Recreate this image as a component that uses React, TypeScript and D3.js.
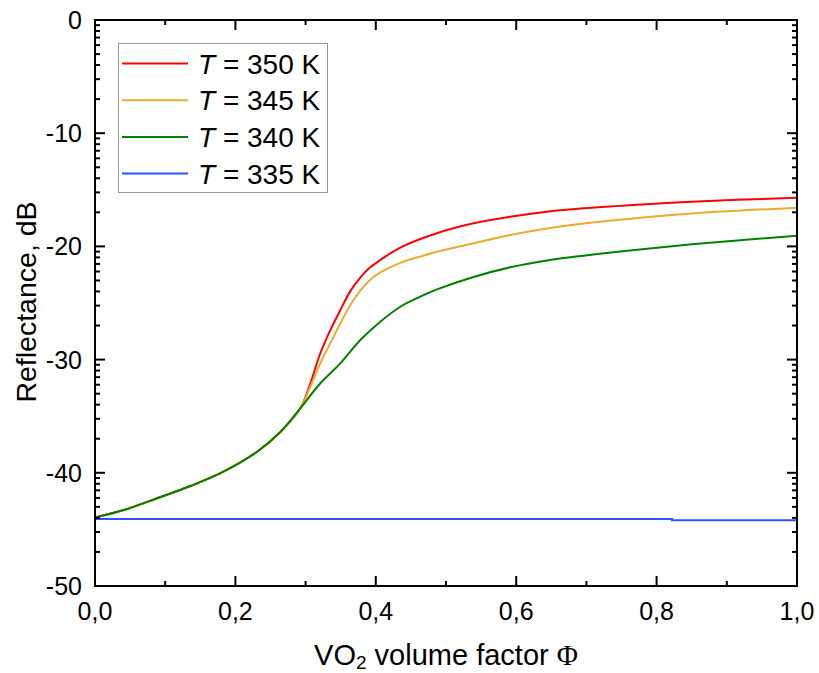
import React from "react";
import * as d3 from "d3";

const phiRed = [0, 0.041, 0.0885, 0.136, 0.183, 0.231, 0.264, 0.2925, 0.3068, 0.321, 0.3352, 0.3495, 0.3637, 0.3779, 0.392, 0.4064, 0.4349, 0.4871, 0.5392, 0.5915, 0.6437, 0.6958, 0.748, 0.85, 1.0];
const valRed = [-43.95, -43.29, -42.25, -41.17, -39.9, -38.14, -36.4, -34.3, -32.09, -29.44, -27.39, -25.62, -23.95, -22.75, -21.85, -21.2, -20.1, -18.84, -17.96, -17.38, -16.93, -16.63, -16.42, -16.05, -15.7];

const phiOrange = [0, 0.041, 0.0885, 0.136, 0.183, 0.231, 0.264, 0.2925, 0.3068, 0.321, 0.3352, 0.3495, 0.3637, 0.3779, 0.392, 0.4064, 0.4349, 0.4633, 0.4871, 0.5392, 0.5915, 0.6437, 0.6958, 0.748, 0.85, 1.0];
const valOrange = [-43.95, -43.29, -42.25, -41.17, -39.9, -38.14, -36.4, -34.3, -32.39, -30.33, -28.56, -26.79, -25.18, -23.9, -22.95, -22.3, -21.45, -20.9, -20.48, -19.73, -19.0, -18.42, -17.98, -17.65, -17.1, -16.58];

const phiGreen = [0, 0.041, 0.0885, 0.136, 0.183, 0.231, 0.264, 0.2925, 0.321, 0.3495, 0.3779, 0.4064, 0.4349, 0.4633, 0.4871, 0.5392, 0.5915, 0.6437, 0.6958, 0.748, 0.85, 1.0];
const valGreen = [-43.95, -43.29, -42.25, -41.17, -39.9, -38.14, -36.4, -34.3, -32.09, -30.33, -28.27, -26.65, -25.33, -24.44, -23.8, -22.7, -21.85, -21.25, -20.82, -20.45, -19.82, -19.05];

const phiBlue = [0, 0.822, 1.0];
const valBlue = [-44.08, -44.2, -44.2];

const seriesLabels = ["350", "345", "340", "335"];
const seriesColors = ["#ff0000", "#e8ac2e", "#008000", "#2f50ff"];

const xMajorTicks = [0, 0.2, 0.4, 0.6, 0.8, 1.0];
const xMinorTicks = [0.1, 0.3, 0.5, 0.7, 0.9];
const yMajorTicks = [0, -10, -20, -30, -40, -50];

const W = 819, H = 673;
const L = 95, R = 797, T = 20, B = 586;

export default function App() {
  const x = d3.scaleLinear().domain([0, 1]).range([L, R]);
  const y = d3.scaleLinear().domain([-50, 0]).range([B, T]);

  const series = [
    { xs: phiRed, ys: valRed },
    { xs: phiOrange, ys: valOrange },
    { xs: phiGreen, ys: valGreen },
    { xs: phiBlue, ys: valBlue },
  ];

  const yMinor: number[] = [];
  yMajorTicks.forEach((m) => {
    if (m < 0) for (let k = 2; k <= 9; k++) yMinor.push(m + 10 * Math.log10(k));
  });

  const majLen = 10, minLen = 5;
  const font = "'Liberation Sans', Arial, sans-serif";

  return (
    <svg width={W} height={H} style={{ position: "absolute", left: 0, top: 0, background: "#fff" }} fontFamily={font}>
      <defs>
        <clipPath id="plotclip">
          <rect x={L} y={T} width={R - L} height={B - T} />
        </clipPath>
      </defs>
      <g clipPath="url(#plotclip)">
        {series.map((s, i) => {
          const pts = s.xs.map((v, j) => [v, s.ys[j]] as [number, number]);
          const line = d3
            .line<[number, number]>()
            .x((d) => x(d[0]))
            .y((d) => y(d[1]))
            .curve(i === 3 ? d3.curveStepAfter : d3.curveCatmullRom.alpha(0.5));
          return <path key={i} d={line(pts) || ""} fill="none" stroke={seriesColors[i]} strokeWidth={2} />;
        })}
      </g>

      <g stroke="#000" strokeWidth={2}>
        {xMajorTicks.map((t) => (
          <g key={"xm" + t}>
            <line x1={x(t)} x2={x(t)} y1={B} y2={B - majLen} />
            <line x1={x(t)} x2={x(t)} y1={T} y2={T + majLen} />
          </g>
        ))}
        {xMinorTicks.map((t) => (
          <g key={"xn" + t}>
            <line x1={x(t)} x2={x(t)} y1={B} y2={B - minLen} />
            <line x1={x(t)} x2={x(t)} y1={T} y2={T + minLen} />
          </g>
        ))}
        {yMajorTicks.map((t) => (
          <g key={"ym" + t}>
            <line x1={L} x2={L + majLen} y1={y(t)} y2={y(t)} />
            <line x1={R} x2={R - majLen} y1={y(t)} y2={y(t)} />
          </g>
        ))}
        {yMinor.map((t, i) => (
          <g key={"yn" + i}>
            <line x1={L} x2={L + minLen} y1={y(t)} y2={y(t)} />
            <line x1={R} x2={R - minLen} y1={y(t)} y2={y(t)} />
          </g>
        ))}
      </g>

      <rect x={L} y={T} width={R - L} height={B - T} fill="none" stroke="#000" strokeWidth={2} />

      <g fontSize={25} fill="#000">
        {xMajorTicks.map((t) => (
          <text key={"xl" + t} x={x(t)} y={620} textAnchor="middle">
            {d3.format(".1f")(t).replace(".", ",")}
          </text>
        ))}
        {yMajorTicks.map((t) => (
          <text key={"yl" + t} x={82} y={y(t) + 9} textAnchor="end">
            {t === 0 ? "0" : String(t)}
          </text>
        ))}
      </g>

      <text x={446} y={665} textAnchor="middle" fontSize={29} fill="#000">
        VO
        <tspan fontSize={19} dy={4}>2</tspan>
        <tspan dy={-4}> volume factor </tspan>
        <tspan fontFamily="'Liberation Serif', 'Times New Roman', serif">Φ</tspan>
      </text>
      <text transform={`translate(36, 302) rotate(-90)`} textAnchor="middle" fontSize={28.5} fill="#000">
        Reflectance, dB
      </text>

      <rect x={118.5} y={43.5} width={209} height={149} fill="#fff" stroke="#999" strokeWidth={1} />
      {seriesLabels.map((lab, i) => {
        const ly = 63.5 + i * 36.7;
        return (
          <g key={"lg" + i}>
            <line x1={122} x2={188} y1={ly} y2={ly} stroke={seriesColors[i]} strokeWidth={2} />
            <text x={198} y={ly + 10} fontSize={28} fill="#000">
              <tspan fontStyle="italic">T</tspan> = {lab} K
            </text>
          </g>
        );
      })}
    </svg>
  );
}
